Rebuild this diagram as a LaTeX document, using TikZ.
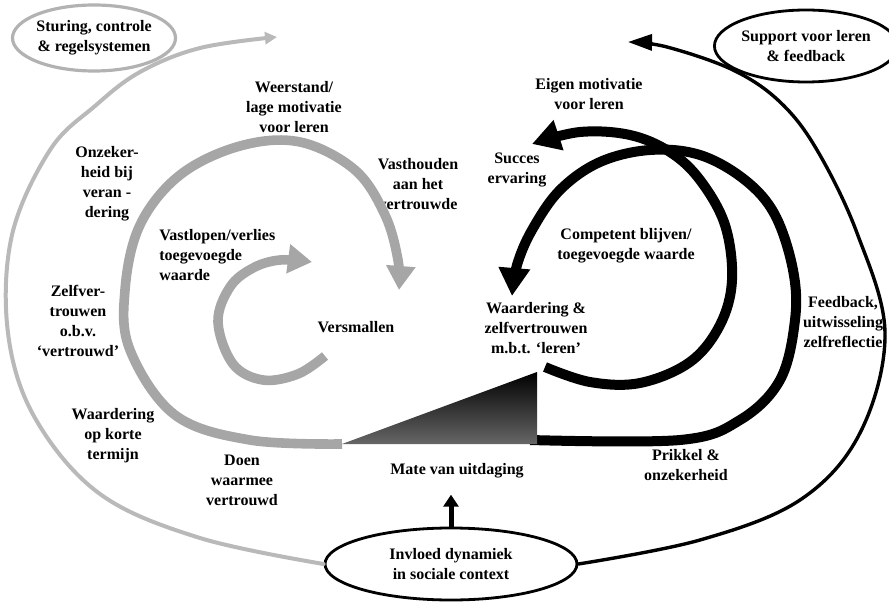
\documentclass[tikz,border=0pt]{standalone}
\usepackage{fontspec}
\setmainfont{Liberation Serif}
\usepackage{tikz}
\usetikzlibrary{arrows,arrows.meta,shapes.geometric}

\begin{document}
\begin{tikzpicture}[line cap=round,line join=round,>=triangle 45,x=0.5pt,y=-0.5pt,
    txt/.style={font=\fontsize{8}{10}\selectfont\bfseries,align=center,inner sep=0pt},
    oval/.style={ellipse,draw,line width=1.4pt,inner sep=0pt,font=\fontsize{8}{10}\selectfont\bfseries,align=center},
    grayline/.style={draw=gray!55,line width=2pt,-{Triangle[length=6pt,width=6pt]}},
    grayband/.style={draw=gray!70,line width=4.8pt,line cap=butt,-{Triangle[length=12pt,width=14pt]}},
    blackband/.style={draw=black,line width=5pt,line cap=butt,-{Triangle[length=14pt,width=15pt]}},
    blackline/.style={draw=black,line width=1.7pt,-{Triangle[length=12pt,width=8pt]}}]
    \useasboundingbox (0,0) rectangle (889,604);
    % ovals
    \node[oval,draw=gray!60,line width=1.6pt,minimum width=79pt,minimum height=33pt] (sturing) at (94,38) {Sturing, controle\\\& regelsystemen};
    \node[oval,minimum width=84pt,minimum height=36pt] (support) at (806,46) {Support voor leren\\\& feedback};
    \node[oval,minimum width=126pt,minimum height=36pt] (social) at (451,564) {Invloed dynamiek\\in sociale context};
    % labels
    \node[txt] (weerstand) at (294,107) {Weerstand/\\lage motivatie\\voor leren};
    \node[txt] (vasthouden) at (418,184) {Vasthouden\\aan het\\vertrouwde};
    \node[txt] (eigen) at (589,94) {Eigen motivatie\\voor leren};
    \node[txt] (succes) at (517,170) {Succes\\ervaring};
    \node[txt] (competent) at (626,246) {Competent blijven/\\toegevoegde waarde};
    \node[txt] (onzeker) at (107,184) {Onzeker-\\heid bij\\veran -\\dering};
    \node[txt] (zelfver) at (78,321) {Zelfver-\\trouwen\\o.b.v.\\‘vertrouwd’};
    \node[txt] (kort) at (113,436) {Waardering\\op korte\\termijn};
    \node[txt,anchor=west,align=left] (vastlopen) at (159,255) {Vastlopen/verlies\\toegevoegde\\waarde};
    \node[txt] (versmallen) at (356,327) {Versmallen};
    \node[txt] (doen) at (242,480) {Doen\\waarmee\\vertrouwd};
    \node[txt] (mate) at (457,471) {Mate van uitdaging};
    \node[txt] (leren) at (536,328) {Waardering \&\\zelfvertrouwen\\m.b.t. ‘leren’};
    \node[txt] (prikkel) at (686,465) {Prikkel \&\\onzekerheid};
    \node[txt] (feedback) at (843,322) {Feedback,\\uitwisseling\\zelfreflectie};
    % challenge wedge
    \coordinate (tl) at (342,444);
    \coordinate (tr) at (537,444);
    \coordinate (tt) at (537,372);
    \coordinate (bandstart) at (530,440);
    % outer loops
    \draw[grayline] plot[smooth,tension=0.6] coordinates {(social.west) (200,538) (100,494) (35,418) (8,333) (12,235) (50,150) (95,106) (140,72) (200,48) (277,37)};
    \draw[blackline] plot[smooth,tension=0.6] coordinates {(social.east) (700,540) (800,500) (860,433) (885,333) (857,233) (817,150) (780,102) (733,70) (667,47) (628,42)};
    % gray spirals
    \draw[grayband] plot[smooth,tension=0.6] coordinates {(tl) (250,440) (175,415) (130,350) (125,290) (140,225) (180,175) (240,146) (300,142) (355,170) (385,215) (398,260) (399,290)};
    \draw[grayband] plot[smooth,tension=0.6] coordinates {(325,356) (298,374) (263,380) (233,364) (218,322) (230,287) (253,268) (280,260) (312,262)};
    % black spirals
    \draw[blackband] plot[smooth,tension=0.6] coordinates {(bandstart) (680,440) (740,420) (780,380) (795,320) (793,270) (775,215) (745,180) (700,155) (650,150) (600,162) (560,190) (532,230) (517,265) (512,296)};
    \draw[blackband] plot[smooth,tension=0.6] coordinates {(545,367) (590,382) (640,383) (690,362) (720,325) (732,280) (725,225) (700,180) (670,152) (630,135) (580,132) (532,144)};
    \shade[top color=black,bottom color=black!60] (tl) -- (tr) -- (tt) -- cycle;
    % influence arrow
    \draw[line width=2.5pt,line cap=butt,-{Triangle[length=6pt,width=7.5pt]}] (social.north) -- ([yshift=-8pt]social.north |- mate.south);
\end{tikzpicture}
\end{document}
